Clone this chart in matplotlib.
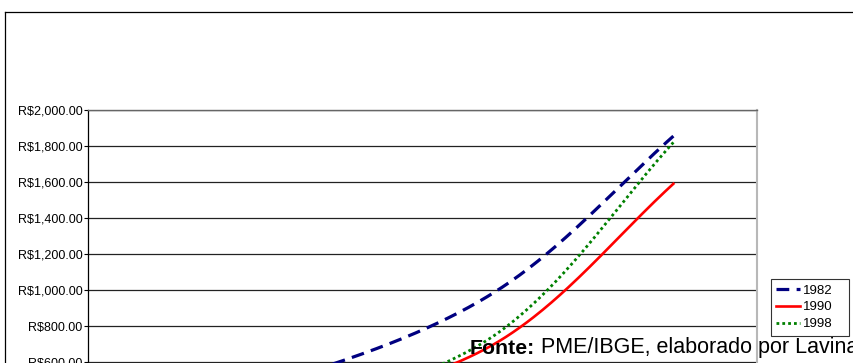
import numpy as np
import matplotlib
matplotlib.use("Agg")
import matplotlib.pyplot as plt
from matplotlib.lines import Line2D
from matplotlib.ticker import FuncFormatter

plt.rcParams['font.family'] = ['Liberation Sans', 'DejaVu Sans']

# category positions along the x axis and mean income per survey year
positions = [0, 1, 2, 3]
renda_1982 = [400, 600, 1030, 1855]
renda_1990 = [250, 390, 740, 1590]
renda_1998 = [260, 390, 795, 1820]
series_labels = ['1982', '1990', '1998']
y_ticks = np.arange(0, 2001, 200)

W, H = 854, 363
fig = plt.figure(figsize=(W / 100, H / 100), dpi=100)
ax = fig.add_axes([88 / W, (H - 470) / H, (757 - 88) / W, 360 / H])
ax.set_xlim(-0.5, 3.5)
ax.set_ylim(0, 2000)


def smooth_curve(ax, xs, ys, n=80):
    """Bezier smoothing with chord-weighted control points (spreadsheet style)."""
    pts = ax.transData.transform(np.column_stack([xs, ys]).astype(float))
    m = len(pts)
    out = [pts[:1]]
    for i in range(m - 1):
        p0 = pts[max(i - 1, 0)]
        p1 = pts[i]
        p2 = pts[i + 1]
        p3 = pts[min(i + 2, m - 1)]
        d01 = np.hypot(*(p1 - p0))
        d12 = np.hypot(*(p2 - p1))
        d23 = np.hypot(*(p3 - p2))
        c1 = p1 + (p2 - p0) * d12 / (d01 + d12) / 3
        c2 = p2 - (p3 - p1) * d12 / (d12 + d23) / 3
        t = np.linspace(0, 1, n)[1:, None]
        seg = ((1 - t) ** 3 * p1 + 3 * (1 - t) ** 2 * t * c1
               + 3 * (1 - t) * t ** 2 * c2 + t ** 3 * p2)
        out.append(seg)
    curve = ax.transData.inverted().transform(np.vstack(out))
    return curve[:, 0], curve[:, 1]


x82, y82 = smooth_curve(ax, positions, renda_1982)
x90, y90 = smooth_curve(ax, positions, renda_1990)
x98, y98 = smooth_curve(ax, positions, renda_1998)

ax.plot(x82, y82, color='#000080', lw=2.3, dashes=(4, 2.3),
        dash_capstyle='butt', label=series_labels[0], zorder=3)
ax.plot(x90, y90, color='#ff0000', lw=1.9, label=series_labels[1], zorder=3)
ax.plot(x98, y98, color='#008000', lw=2.0, dashes=(1, 1.1),
        dash_capstyle='butt', label=series_labels[2], zorder=3)

ax.set_yticks(y_ticks)
ax.yaxis.set_major_formatter(FuncFormatter(lambda v, _: f"R${v:,.2f}"))
ax.yaxis.grid(True, color='#222222', lw=0.9)
ax.set_axisbelow(True)
ax.set_xticks([])
ax.tick_params(axis='y', direction='out', length=3, width=0.8, pad=1,
               labelsize=9, colors='black')

ax.spines['left'].set_color('black')
ax.spines['left'].set_linewidth(0.9)
ax.spines['right'].set_color('#b8b8b8')
ax.spines['right'].set_linewidth(1.5)
ax.spines['top'].set_color('#666666')
ax.spines['top'].set_linewidth(1.0)
ax.spines['bottom'].set_visible(False)

# outer chart border
fig.add_artist(Line2D([5.5 / W, 5.5 / W], [0, (H - 11.5) / H],
                      color='black', lw=0.9, transform=fig.transFigure))
fig.add_artist(Line2D([5.5 / W, 1], [(H - 11.5) / H, (H - 11.5) / H],
                      color='black', lw=0.9, transform=fig.transFigure))

leg = ax.legend(loc='upper left',
                bbox_to_anchor=(771 / W, (H - 335) / H, 78 / W, 56 / H),
                bbox_transform=fig.transFigure, mode='expand', borderaxespad=0,
                frameon=True, fancybox=False, edgecolor='black', fontsize=9.5,
                handlelength=1.8, handletextpad=0.25, labelspacing=0.36,
                borderpad=0.4)
leg.get_frame().set_linewidth(0.8)

t1 = fig.text(470 / W, (H - 354) / H, "Fonte:", fontsize=15.3,
              fontweight='bold', va='baseline', ha='left', zorder=5)
ax.annotate(" PME/IBGE, elaborado por Lavinas", xy=(1, 0), xycoords=t1,
            va='bottom', ha='left', fontsize=15.5, annotation_clip=False,
            zorder=5)

fig.savefig("out.png", dpi=100)
